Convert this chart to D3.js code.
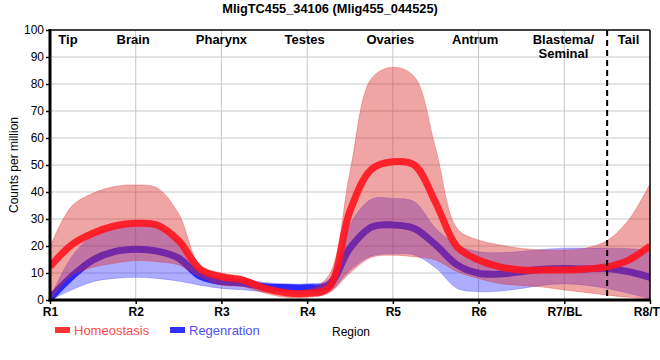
<!DOCTYPE html>
<html><head><meta charset="utf-8">
<script src="https://cdn.jsdelivr.net/npm/d3@7"></script>
<style>
body{margin:0;background:#fff;}
svg{display:block;font-family:"Liberation Sans",Arial,sans-serif;}
</style></head>
<body><svg id="chart" width="660" height="360"></svg>
<script>
// positions along body axis (0 = R1 ... 7 = R8/TL)
const positions = [0,0.25,0.5,0.75,1,1.25,1.5,1.75,2,2.25,2.5,2.75,3,3.25,3.5,3.75,4,4.25,4.5,4.75,5,5.25,5.5,5.75,6,6.25,6.5,6.75,7];
const homeoMean  = [12.3,20.4,24.7,27.4,28.4,27.8,22,11.5,8.6,7.4,4.4,2.7,2.5,4.5,33,48.4,51.2,50,36,19.7,14.8,12.3,11.1,11.1,11.1,11.5,12.3,14.8,20];
const homeoUpper = [19.7,34.6,39.5,42,42.6,41.5,32,12.8,10,8.6,5.5,3.8,3.7,9,47.5,82,86.2,82.7,56,26.5,22.2,20.4,19.1,18.5,18.5,19.2,22,29.6,43];
const homeoLower = [0,8.9,12.1,13.6,14.6,14.2,13,8.6,5.5,5,2.6,1,1,2.5,10,15.8,16.6,16,14.8,10.5,8,6.1,5.4,4.8,3.7,2.8,1.8,1,0.3];
const regenMean  = [0.6,8.6,14.8,17.9,18.8,18.1,15.5,8.8,6.8,6.3,4.9,4.6,4.5,5.5,19.2,27,27.8,26.5,20.4,13,9.9,9.6,10.5,11.4,11.7,11.5,11.7,10.5,8.4];
const regenUpper = [0.6,15.8,24,26.9,28,27.5,22,11,8.5,7.8,6.5,6,6,7.5,28,37.3,37.6,36.4,26.5,20.4,17.9,17.5,18,18.7,19.2,19.2,19.2,19,18.3];
const regenLower = [0,3.7,6.8,8,8.4,8,7,5.5,4.3,3.8,3,2.5,2.3,3,11,16.3,17.1,16.7,11.9,4.3,3.1,3.3,4.3,5.5,6,5.5,4.3,2.5,0.5];
const regionTicks = ["R1","R2","R3","R4","R5","R6","R7/BL","R8/TL"];
const yTicks = [0,10,20,30,40,50,60,70,80,90,100];
const tissueLabels = [["Tip"],["Brain"],["Pharynx"],["Testes"],["Ovaries"],["Antrum"],["Blastema/","Seminal"],["Tail"]];
const tissuePos = [0.21,0.97,2.0,2.97,3.97,4.96,5.99,6.75];
const dividerPos = 6.5;
const seriesNames = ["Homeostasis","Regenration"];

const svg = d3.select("#chart");
const L=50,R=650,T=30,B=300;
const x = d3.scaleLinear().domain([0,7]).range([L,R]);
const y = d3.scaleLinear().domain([0,100]).range([B,T]);

// grid
const g = svg.append("g");
g.selectAll(".hg").data(yTicks.slice(1,-1)).join("line")
  .attr("x1",L).attr("x2",R).attr("y1",d=>y(d)).attr("y2",d=>y(d))
  .attr("stroke","#c8c8c8").attr("stroke-width",1);
g.selectAll(".vg").data(d3.range(1,7)).join("line")
  .attr("x1",d=>x(d)).attr("x2",d=>x(d)).attr("y1",T).attr("y2",B)
  .attr("stroke","#c8c8c8").attr("stroke-width",1);

svg.append("clipPath").attr("id","clip").append("rect")
  .attr("x",L).attr("y",T).attr("width",R-L).attr("height",B-T);
const plot = svg.append("g").attr("clip-path","url(#clip)");

function pts(arr){return positions.map((p,i)=>[p,arr[i]]);}
const curve = d3.curveCatmullRom.alpha(0.5);
const area = (up,lo)=>d3.area().x((d,i)=>x(positions[i])).y0((d,i)=>y(lo[i])).y1((d,i)=>y(up[i])).curve(curve)(positions);
const line = arr=>d3.line().x(d=>x(d[0])).y(d=>y(d[1])).curve(curve)(pts(arr));

// regeneration band & line
plot.append("path").attr("d",area(regenUpper,regenLower))
  .attr("fill","rgb(60,60,255)").attr("fill-opacity",0.42)
  .attr("stroke","rgb(60,60,255)").attr("stroke-opacity",0.3).attr("stroke-width",1);
plot.append("path").attr("d",line(regenMean)).attr("fill","none")
  .attr("stroke","rgb(40,40,255)").attr("stroke-width",7);
// homeostasis band & line
plot.append("path").attr("d",area(homeoUpper,homeoLower))
  .attr("fill","rgb(220,40,40)").attr("fill-opacity",0.42)
  .attr("stroke","rgb(220,40,40)").attr("stroke-opacity",0.3).attr("stroke-width",1);
plot.append("path").attr("d",line(homeoMean)).attr("fill","none")
  .attr("stroke","rgb(255,20,30)").attr("stroke-opacity",0.9).attr("stroke-width",7);

// divider
svg.append("line").attr("x1",x(dividerPos)).attr("x2",x(dividerPos)).attr("y1",T).attr("y2",B)
  .attr("stroke","#000").attr("stroke-width",2).attr("stroke-dasharray","6,4");

// border
svg.append("line").attr("x1",L).attr("x2",R).attr("y1",T).attr("y2",T).attr("stroke","#000").attr("stroke-width",1.5);
svg.append("line").attr("x1",R).attr("x2",R).attr("y1",T).attr("y2",B).attr("stroke","#000").attr("stroke-width",1.5);

// axes
const ya = svg.append("g").attr("transform",`translate(${L},0)`)
  .call(d3.axisLeft(y).tickValues(yTicks).tickSize(4).tickPadding(2));
ya.select(".domain").remove();
ya.selectAll("text").attr("font-size",12).attr("font-family","Liberation Sans, Arial, sans-serif").attr("fill","#000");
ya.selectAll("line").attr("stroke","#000").attr("stroke-width",1.5);
const xa = svg.append("g").attr("transform",`translate(0,${B})`)
  .call(d3.axisBottom(x).tickValues(d3.range(0,8)).tickFormat((d,i)=>regionTicks[i]).tickSize(4).tickPadding(3));
xa.select(".domain").remove();
xa.selectAll("text").attr("font-size",12).attr("font-weight","bold").attr("font-family","Liberation Sans, Arial, sans-serif").attr("fill","#000");
xa.selectAll("line").attr("stroke","#000").attr("stroke-width",1.5);
svg.append("line").attr("x1",L).attr("x2",L).attr("y1",T-1).attr("y2",B+1.5).attr("stroke","#000").attr("stroke-width",3);
svg.append("line").attr("x1",L-1.5).attr("x2",R+0.75).attr("y1",B).attr("y2",B).attr("stroke","#000").attr("stroke-width",3);

// tissue labels
tissueLabels.forEach((lines,i)=>{
  const t = svg.append("text").attr("x",x(tissuePos[i])).attr("y",44)
    .attr("text-anchor","middle").attr("font-size",13).attr("font-weight","bold");
  lines.forEach((s,j)=>t.append("tspan").attr("x",x(tissuePos[i])).attr("dy",j?14:0).text(s));
});

// title
svg.append("text").attr("x",330).attr("y",13).attr("text-anchor","middle")
  .attr("font-size",12.8).attr("font-weight","bold").text("MligTC455_34106 (Mlig455_044525)");
// axis titles
svg.append("text").attr("transform","translate(18,165) rotate(-90)").attr("text-anchor","middle")
  .attr("font-size",12).text("Counts per million");
svg.append("text").attr("x",351).attr("y",336).attr("text-anchor","middle").attr("font-size",12).text("Region");

// legend
const legColors = ["rgb(255,50,50)","rgb(50,50,255)"];
const legText = ["rgb(255,75,75)","rgb(80,80,255)"];
const legX = [55,170];
seriesNames.forEach((n,i)=>{
  svg.append("rect").attr("x",legX[i]).attr("y",327).attr("width",15).attr("height",6).attr("fill",legColors[i]);
  svg.append("text").attr("x",legX[i]+19).attr("y",335).attr("font-size",13).attr("fill",legText[i]).text(n);
});
</script></body></html>
